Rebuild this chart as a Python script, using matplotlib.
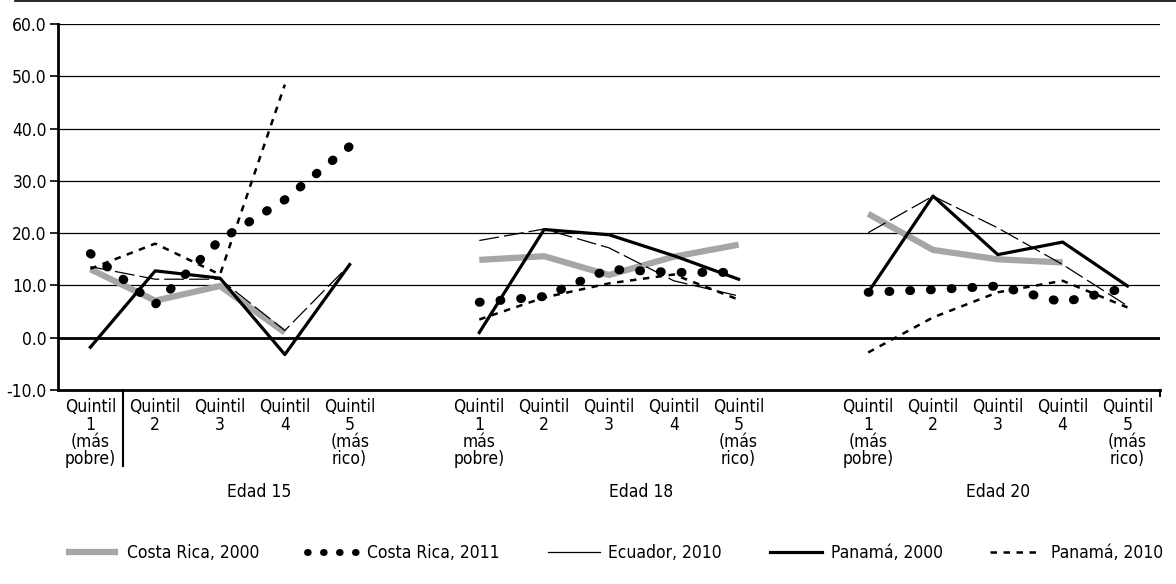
import numpy as np
import matplotlib.pyplot as plt
from matplotlib.lines import Line2D

plt.rcParams['font.family'] = ['DejaVu Sans']
plt.rcParams['font.stretch'] = 'condensed'

grupos = ['Edad 15', 'Edad 18', 'Edad 20']
quintiles = ['Quintil\n1\n(más\npobre)', 'Quintil\n2', 'Quintil\n3', 'Quintil\n4', 'Quintil\n5\n(más\nrico)']
quintiles_18 = ['Quintil\n1\nmás\npobre)', 'Quintil\n2', 'Quintil\n3', 'Quintil\n4', 'Quintil\n5\n(más\nrico)']

# valores por grupo (Edad 15, Edad 18, Edad 20), 5 quintiles cada uno
costa_rica_2000 = [[13.1, 7.1, 9.9, 1.0, np.nan],
                   [14.9, 15.6, 12.0, 15.5, 17.8],
                   [23.7, 16.8, 15.0, 14.4, np.nan]]
costa_rica_2011 = [[16.1, 6.4, 18.7, 26.4, 36.6],
                   [6.8, 7.9, 13.1, 12.5, 12.5],
                   [8.7, 9.2, 9.9, 6.8, 9.6]]
ecuador_2010 = [[13.6, 11.2, 11.2, 1.4, 14.0],
                [18.6, 20.8, 17.2, 10.9, 8.0],
                [20.1, 27.1, 21.0, 14.0, 6.1]]
panama_2000 = [[-1.8, 12.8, 11.4, -3.2, 14.0],
               [1.0, 20.7, 19.7, 15.7, 11.2],
               [8.7, 27.1, 15.9, 18.3, 9.9]]
panama_2010 = [[13.2, 18.0, 12.1, 48.4, np.nan],
               [3.5, 7.7, 10.4, 12.1, 7.3],
               [-2.8, 3.9, 8.7, 10.9, 5.8]]

def posiciones(g):
    return np.arange(5) + g * 6

fig = plt.figure(figsize=(11.76, 5.84), dpi=100)
ax = fig.add_axes([0.0493, 0.332, 0.937, 0.627])

estilos = [
    ('Costa Rica, 2000', costa_rica_2000, dict(color='#a6a6a6', lw=4.5, solid_capstyle='butt')),
    ('Costa Rica, 2011', costa_rica_2011, dict(color='black', lw=6.5, linestyle=(0, (0.1, 2.2)), dash_capstyle='round')),
    ('Ecuador, 2010', ecuador_2010, dict(color='black', lw=0.9, linestyle=(0, (16, 4)))),
    ('Panamá, 2000', panama_2000, dict(color='black', lw=2.3)),
    ('Panamá, 2010', panama_2010, dict(color='black', lw=1.8, linestyle=(0, (2.6, 2.6)))),
]

handles = []
for nombre, datos, kw in estilos:
    for g in range(3):
        ax.plot(posiciones(g), datos[g], zorder=3, **kw)
    leg_kw = dict(kw)
    if nombre == 'Ecuador, 2010':
        leg_kw['linestyle'] = '-'
    if nombre == 'Costa Rica, 2011':
        leg_kw['lw'] = 5
    handles.append(Line2D([], [], label=nombre, **leg_kw))

ax.set_xlim(-0.5, 16.5)
ax.set_ylim(-10, 60)
ax.set_yticks(np.arange(-10, 61, 10))
ax.set_yticklabels(['%.1f' % v for v in np.arange(-10, 61, 10)], fontsize=12.5)
for v in np.arange(10, 61, 10):
    ax.axhline(v, color='black', lw=0.9, zorder=1)
ax.axhline(0, color='black', lw=2, zorder=2)

xt = np.concatenate([posiciones(g) for g in range(3)])
ax.set_xticks(xt)
ax.set_xticklabels(quintiles + quintiles_18 + quintiles, fontsize=12.5, linespacing=0.95)
ax.tick_params(axis='x', length=0, pad=6)
ax.tick_params(axis='y', length=6, width=1.2, pad=2)

for s in ['top', 'right']:
    ax.spines[s].set_visible(False)
ax.spines['left'].set_linewidth(2)
ax.spines['bottom'].set_linewidth(2)

# separador bajo el eje
ax.plot([0.5, 0.5], [-10, -24.5], color='black', lw=1.5, clip_on=False)
ax.plot([16.5, 16.5], [-10, -11.2], color='black', lw=1.5, clip_on=False)

for g, x in zip(grupos, [2.6, 8.5, 14.0]):
    ax.text(x, -29.5, g, ha='center', va='center', fontsize=12.5)

fig.add_artist(Line2D([0.013, 1.0], [0.998, 0.998], color='black', lw=1.2))

fig.legend(handles=handles, loc='lower left', bbox_to_anchor=(0.05, 0.025, 0.945, 0.07),
           mode='expand', ncol=5, frameon=False, fontsize=12.5, handlelength=3.0,
           handletextpad=0.5, borderaxespad=0)

fig.savefig('out.png', dpi=100)
